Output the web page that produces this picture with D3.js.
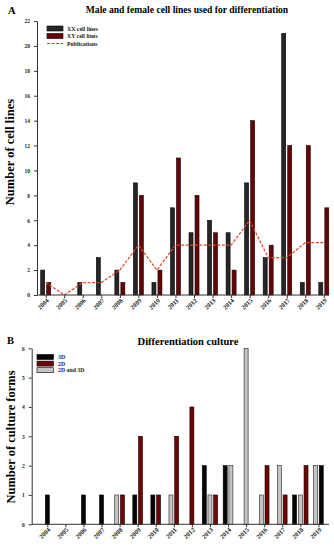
<!DOCTYPE html>
<html>
<head>
<meta charset="utf-8">
<script src="https://cdn.jsdelivr.net/npm/d3@7"></script>
<style>
  body { margin: 0; background: #fff; }
  svg text { font-family: "Liberation Serif", "Times New Roman", serif; font-weight: bold; }
</style>
</head>
<body>
<div id="chart"></div>
<script>
const years = [2004, 2005, 2006, 2007, 2008, 2009, 2010, 2011, 2012, 2013, 2014, 2015, 2016, 2017, 2018, 2019];

// panel A
const xxLines = [2, 0, 1, 3, 2, 9, 1, 7, 5, 6, 5, 9, 3, 21, 1, 1];
const xyLines = [1, 0, 0, 0, 1, 8, 2, 11, 8, 5, 2, 14, 4, 12, 12, 7];
const publications = [1, 0, 1, 1, 2, 4, 2, 4, 4, 4, 4, 6, 3, 3, 4.2, 4.2];
const yTicksA = [0, 2, 4, 6, 8, 10, 12, 14, 16, 18, 20, 22];

// panel B
const culture3D = [1, 0, 1, 1, 0, 1, 1, 0, 0, 2, 2, 0, 0, 0, 1, 2];
const culture2D = [0, 0, 0, 0, 1, 3, 1, 3, 4, 1, 0, 0, 2, 1, 2, 0];
const culture2D3D = [0, 0, 0, 0, 1, 0, 0, 1, 0, 1, 2, 6, 1, 2, 1, 2];
const yTicksB = [0, 1, 2, 3, 4, 5, 6];

const W = 334, H = 550;
const COL_XX = "#262626", COL_XY = "#640404", COL_PUB = "#e5442c";
const COL_3D = "#050505", COL_2D = "#6e0606", COL_BOTH = "#c4c4c4";

let svg = d3.select("#chart").append("svg")
    .attr("width", W).attr("height", H);
svg.append("rect").attr("width", W).attr("height", H).attr("fill", "#fff");

function styleAxis(g, size) {
  g.selectAll("text").attr("font-size", size).attr("fill", "#222");
  g.selectAll("line").attr("stroke", "#333");
  g.select(".domain").attr("stroke", "#333").attr("stroke-width", 1);
}

function yearAxis(g, x, left, right, y0) {
  g.attr("transform", "translate(0," + y0 + ")")
    .call(d3.axisBottom(x).tickSize(3).tickSizeOuter(0));
  g.select(".domain").remove();
  g.append("line").attr("x1", left).attr("x2", right)
    .attr("stroke", "#333").attr("stroke-width", 1);
  g.selectAll(".tick text")
    .attr("text-anchor", "end")
    .attr("x", 0).attr("y", 0).attr("dy", 0)
    .attr("transform", "translate(3,6) rotate(-45)");
  styleAxis(g, 6.4);
}

// ---------- panel A ----------
const xA = d3.scalePoint().domain(years).range([45.7, 323.8]);
const yA = d3.scaleLinear().domain([0, 22]).range([295, 21]);

svg.append("text").attr("x", 8).attr("y", 14).attr("font-size", 10.5).text("A");
svg.append("text").attr("x", 187).attr("y", 13).attr("text-anchor", "middle")
  .attr("font-size", 9.6).text("Male and female cell lines used for differentiation");

let gA = svg.append("g");
gA.selectAll(".xx").data(years).join("rect")
  .attr("x", d => xA(d) - 5)
  .attr("y", (d, i) => yA(xxLines[i]))
  .attr("width", 4)
  .attr("height", (d, i) => yA(0) - yA(xxLines[i]))
  .attr("fill", COL_XX).attr("stroke", "#000").attr("stroke-width", 0.6)
  .style("display", (d, i) => xxLines[i] ? null : "none");
gA.selectAll(".xy").data(years).join("rect")
  .attr("x", d => xA(d) + 1)
  .attr("y", (d, i) => yA(xyLines[i]))
  .attr("width", 4)
  .attr("height", (d, i) => yA(0) - yA(xyLines[i]))
  .attr("fill", COL_XY).attr("stroke", "#1a0000").attr("stroke-width", 0.6)
  .style("display", (d, i) => xyLines[i] ? null : "none");

let pubLine = d3.line()
  .x((d, i) => xA(years[i]))
  .y(d => yA(d));
gA.append("path").datum(publications)
  .attr("d", pubLine)
  .attr("fill", "none")
  .attr("stroke", COL_PUB)
  .attr("stroke-width", 1.2)
  .attr("stroke-dasharray", "3,1.5");

svg.append("g").attr("transform", "translate(37,0)")
  .call(d3.axisLeft(yA).tickValues(yTicksA).tickSize(3).tickPadding(4).tickSizeOuter(0))
  .call(g => styleAxis(g, 5.5));
svg.append("g").call(g => yearAxis(g, xA, 37, 329, 295));

svg.append("text")
  .attr("transform", "translate(14,152) rotate(-90)")
  .attr("text-anchor", "middle").attr("font-size", 12.5)
  .text("Number of cell lines");

// legend A
const legA = [
  { label: "XX cell lines", fill: COL_XX },
  { label: "XY cell lines", fill: COL_XY },
  { label: "Publications", line: true }
];
let la = svg.append("g").attr("transform", "translate(47,28.5)");
legA.forEach((d, i) => {
  let row = la.append("g").attr("transform", "translate(0," + i * 7.5 + ")");
  if (d.line) {
    row.append("line").attr("x1", 0).attr("x2", 16)
      .attr("stroke", COL_PUB).attr("stroke-width", 1.2).attr("stroke-dasharray", "3,1.5");
  } else {
    row.append("rect").attr("x", 0).attr("y", -2.5).attr("width", 16).attr("height", 5)
      .attr("fill", d.fill).attr("stroke", "#000").attr("stroke-width", 0.6);
  }
  row.append("text").attr("x", 20).attr("y", 2).attr("font-size", 5.8)
    .attr("fill", "#222").text(d.label);
});

// ---------- panel B ----------
const xB = d3.scalePoint().domain(years).range([47.3, 318.4]);
const yB = d3.scaleLinear().domain([0, 6]).range([524.3, 348.3]);

svg.append("text").attr("x", 7).attr("y", 344).attr("font-size", 10.5).text("B");
svg.append("text").attr("x", 188).attr("y", 345).attr("text-anchor", "middle")
  .attr("font-size", 10.5).text("Differentiation culture");

const seriesB = [
  { key: "3D", values: culture3D, fill: COL_3D, stroke: "#000" },
  { key: "2D and 3D", values: culture2D3D, fill: COL_BOTH, stroke: "#222" },
  { key: "2D", values: culture2D, fill: COL_2D, stroke: "#1a0000" }
];
// 2019 is drawn with the combined bar first in the source figure
const orderB = { 2019: ["2D and 3D", "3D", "2D"] };

let barsB = [];
years.forEach((yr, i) => {
  let order = orderB[yr] || seriesB.map(s => s.key);
  let present = order.map(k => seriesB.find(s => s.key == k)).filter(s => s.values[i] > 0);
  present.forEach((s, k) => {
    barsB.push({ year: yr, value: s.values[i], s: s, offset: k - (present.length - 1) / 2 });
  });
});

svg.append("g").selectAll("rect").data(barsB).join("rect")
  .attr("x", d => xB(d.year) + d.offset * 5.7 - 2)
  .attr("y", d => yB(d.value))
  .attr("width", 4)
  .attr("height", d => yB(0) - yB(d.value))
  .attr("fill", d => d.s.fill)
  .attr("stroke", d => d.s.stroke)
  .attr("stroke-width", 0.6);

svg.append("g").attr("transform", "translate(31.7,0)")
  .call(d3.axisLeft(yB).tickValues(yTicksB).tickFormat(d3.format("d"))
    .tickSize(3).tickPadding(4).tickSizeOuter(0))
  .call(g => styleAxis(g, 5.5));
svg.append("g").call(g => yearAxis(g, xB, 31.7, 329, 524.3));

svg.append("text")
  .attr("transform", "translate(15,437) rotate(-90)")
  .attr("text-anchor", "middle").attr("font-size", 12.5)
  .text("Number of culture forms");

// legend B
const legendOrderB = ["3D", "2D", "2D and 3D"];
let lb = svg.append("g").attr("transform", "translate(37,357)");
legendOrderB.map(k => seriesB.find(s => s.key == k)).forEach((d, i) => {
  let row = lb.append("g").attr("transform", "translate(0," + i * 6.6 + ")");
  row.append("rect").attr("x", 0).attr("y", -2.5).attr("width", 16.5).attr("height", 5)
    .attr("fill", d.fill).attr("stroke", "#000").attr("stroke-width", 0.6);
  row.append("text").attr("x", 21).attr("y", 2).attr("font-size", 5.8)
    .attr("fill", "#222").text(d.key);
});
</script>
</body>
</html>
